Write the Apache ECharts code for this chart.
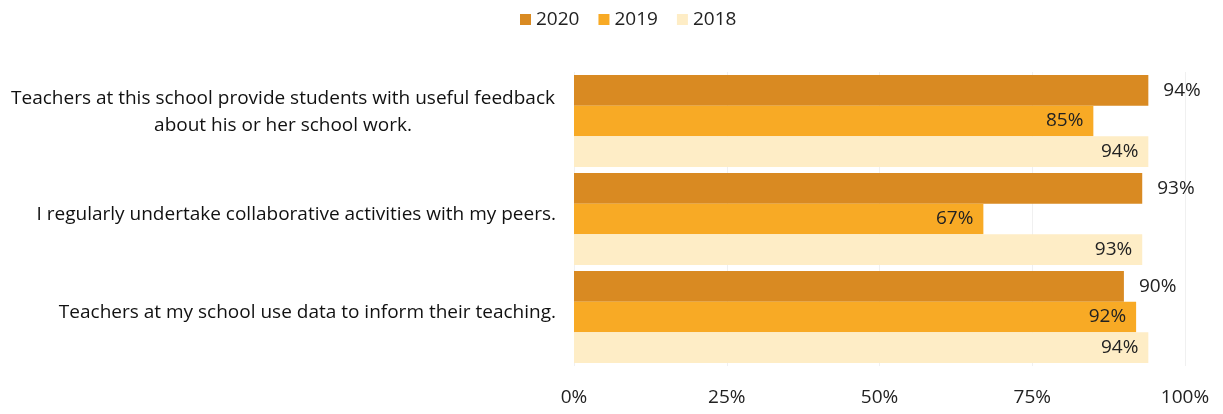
<!DOCTYPE html>
<html>
<head>
<meta charset="utf-8">
<style>
  html, body { margin: 0; padding: 0; background: #ffffff; }
  #chart { width: 1223px; height: 414px; }
</style>
<script src="https://cdn.jsdelivr.net/npm/echarts@6/dist/echarts.min.js"></script>
</head>
<body>
<div id="chart"></div>
<script>
// Survey statements (top to bottom)
const categories = [
  'Teachers at this school provide students with useful feedback\nabout his or her school work.',
  'I regularly undertake collaborative activities with my peers.',
  'Teachers at my school use data to inform their teaching.'
];
// Percentage agreeing, per year
const values2020 = [94, 93, 90];
const values2019 = [85, 67, 92];
const values2018 = [94, 93, 94];
const years = ['2020', '2019', '2018'];
const colors = ['#D98A22', '#F8AA25', '#FEEDC6'];

const font = '"Open Sans", "Noto Sans", sans-serif';
const chart = echarts.init(document.getElementById('chart'));

function barSeries(name, data, color, outside) {
  return {
    name: name,
    type: 'bar',
    data: data,
    barGap: '0%',
    barCategoryGap: '6%',
    itemStyle: { color: color },
    label: {
      show: true,
      position: outside ? 'right' : 'insideRight',
      distance: outside ? 15 : 10,
      formatter: '{c}%',
      color: '#222',
      fontSize: 19,
      fontFamily: font
    }
  };
}

chart.setOption({
  animation: false,
  textStyle: { fontFamily: font },
  legend: {
    data: years,
    left: 515,
    top: 5,
    itemWidth: 11,
    itemHeight: 11,
    itemGap: 19,
    icon: 'rect',
    textStyle: { fontSize: 19, color: '#222', fontFamily: font }
  },
  grid: { left: 574, right: 38, top: 72, bottom: 48 },
  xAxis: {
    type: 'value',
    min: 0,
    max: 100,
    interval: 25,
    axisLine: { show: false },
    axisTick: { show: false },
    splitLine: { show: true, lineStyle: { color: '#f0f0f0' } },
    axisLabel: {
      formatter: '{value}%',
      fontSize: 19,
      color: '#222',
      margin: 22,
      fontFamily: font
    }
  },
  yAxis: {
    type: 'category',
    data: categories,
    inverse: true,
    axisLine: { show: false },
    axisTick: { show: false },
    axisLabel: {
      fontSize: 19,
      color: '#111',
      margin: 18,
      lineHeight: 26,
      align: 'right',
      fontFamily: font,
      padding: [0, 0, 8, 0],
      // multi-line statements are centred line by line
      formatter: function (v) {
        if (v.indexOf('\n') < 0) return v;
        return v.split('\n').map(function (s) { return '{c|' + s + '}'; }).join('\n');
      },
      rich: {
        c: {
          width: 546,
          align: 'center',
          fontSize: 19,
          lineHeight: 27,
          color: '#111',
          fontFamily: font,
          padding: [0, 0, 10, 0]
        }
      }
    }
  },
  series: [
    barSeries(years[0], values2020, colors[0], true),
    barSeries(years[1], values2019, colors[1], false),
    barSeries(years[2], values2018, colors[2], false)
  ]
});
</script>
</body>
</html>
